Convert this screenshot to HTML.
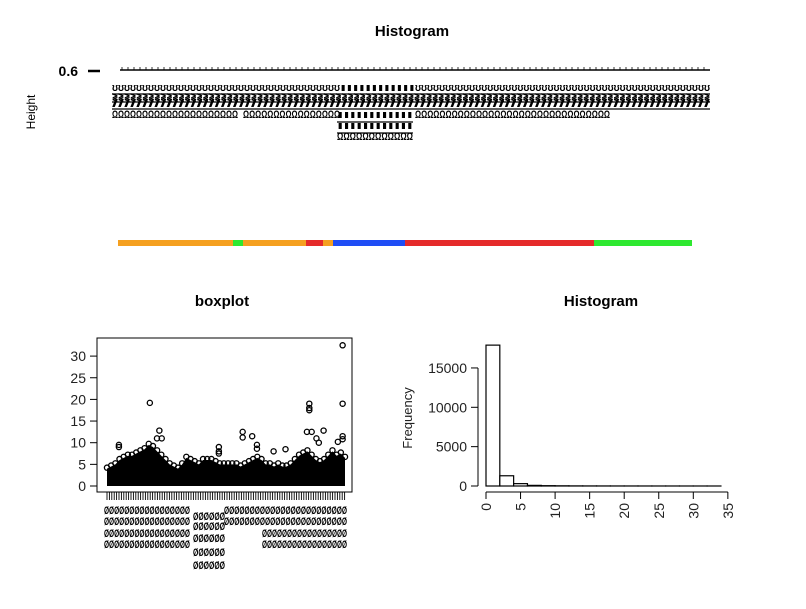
<!DOCTYPE html>
<html><head><meta charset="utf-8">
<style>
body{margin:0;background:#fff;}
svg text{font-family:"Liberation Sans",sans-serif;}
</style></head>
<body>
<svg id="c" width="806" height="604" viewBox="0 0 806 604" xmlns="http://www.w3.org/2000/svg">
<text x="412" y="36" font-size="15" font-weight="bold" text-anchor="middle">Histogram</text>
<text transform="translate(35,112) rotate(-90)" font-size="12" text-anchor="middle">Height</text>
<text x="78" y="76" font-size="14" font-weight="bold" text-anchor="end">0.6</text>
<line x1="88" y1="71" x2="100" y2="71" stroke="#000" stroke-width="2.5"/>
<g id="dendro"></g>
<g id="colorbar"></g>
<text x="222" y="306" font-size="15" font-weight="bold" text-anchor="middle">boxplot</text>
<g id="box"></g>
<text x="601" y="306" font-size="15" font-weight="bold" text-anchor="middle">Histogram</text>
<g id="hist"></g>
</svg>
<script>
// Histogram data
const histBreaks=[0,2,4,6,8,10,12,14,16,18,20,22,24,26,28,30,32,34];
const histCounts=[17900,1300,300,80,40,25,15,10,8,6,5,4,3,3,2,2,1];
const histYTicks=[0,5000,10000,15000];
const histXTicks=[0,5,10,15,20,25,30,35];
// Boxplot data: per-group upper whisker and outliers
const boxUpper=[4,4.5,5,6,6.5,7,7,7.5,8,8.5,9.5,9,8,7,6,5,4.5,4,5,6.5,6,5.5,5,6,6,6,5.5,5,5,5,5,5,4.5,5,5.5,6,6.5,6,5,5,4.5,5,4.5,4.5,5,6,7,7.5,8,7,6,5.5,6,7,8,7,7.5,6.5];
const boxOutliers=[[5,9.5],[5,9],[18,19.2],[22,12.8],[21,11],[23,11],[57,12.5],[57,11.2],[61,11.5],[63,9.5],[63,8.6],[47,9],[47,8],[47,7.5],[70,8],[75,8.5],[85,19],[85,18],[85,17.5],[84,12.5],[86,12.5],[88,11],[91,12.8],[89,10],[99,32.5],[99,19],[99,11.5],[99,10.8],[97,10.2]];
const dendroColors=[["#f5a020",118,233],["#2ee830",233,243],["#f5a020",243,306],["#e52a2a",306,323],["#f5a020",323,333],["#1f4df5",333,405],["#e52a2a",405,594],["#2ee830",594,692]];
const NS="http://www.w3.org/2000/svg";
function mk(p,t,a){const e=document.createElementNS(NS,t);for(const k in a)e.setAttribute(k,a[k]);p.appendChild(e);return e;}

// Color bar
const cb=document.getElementById('colorbar');
dendroColors.forEach(d=>{const r=mk(cb,'rect',{x:d[1],y:240,width:d[2]-d[1],height:6,fill:d[0]});

});

// Dendrogram (label clutter)
const dg=document.getElementById('dendro');
mk(dg,'line',{x1:120,y1:70,x2:710,y2:70,stroke:'#000','stroke-width':1.5});
for(let x=122;x<710;x+=6){mk(dg,'line',{x1:x,y1:67,x2:x,y2:70,stroke:'#000','stroke-width':0.8});}
const rows=[[112,340,91,'ʊ'],[340,415,91,'ı'],[415,710,91,'ʊ'],[112,710,101,'≷'],[112,710,107,'/'],[112,238,118,'Ω'],[243,340,118,'Ω'],[337,413,118,'ı'],[415,610,118,'Ω'],[337,413,129,'ı'],[337,413,140,'Ω']];
rows.forEach(r=>{const n=Math.floor((r[1]-r[0])/6);const t=mk(dg,'text',{x:r[0],y:r[2],'font-size':11,'font-weight':'bold',textLength:r[1]-r[0],lengthAdjust:'spacingAndGlyphs'});t.textContent=r[3].repeat(n);

});
[[112,710,94],[112,710,102],[112,710,109],[337,413,122],[337,413,133]].forEach(l=>mk(dg,'line',{x1:l[0],y1:l[2],x2:l[1],y2:l[2],stroke:'#000','stroke-width':1.2}));

// Boxplot
const bg=document.getElementById('box');
const by=v=>486-v*4.33;
const bx=i=>107+i*(238/(boxUpper.length-1));
mk(bg,'rect',{x:97,y:338,width:255,height:154,fill:'none',stroke:'#000','stroke-width':1});
mk(bg,'line',{x1:97,y1:by(0),x2:97,y2:by(30),stroke:'#000'});
[0,5,10,15,20,25,30].forEach(v=>{mk(bg,'line',{x1:90,y1:by(v),x2:97,y2:by(v),stroke:'#000'});
const t=mk(bg,'text',{x:86,y:by(v)+5,'font-size':14,'text-anchor':'end',fill:'#222'});t.textContent=v;

});
let pts='M107,'+by(0);
boxUpper.forEach((u,i)=>{pts+=' L'+bx(i)+','+by(u);});
pts+=' L345,'+by(0)+' Z';
const area=mk(bg,'path',{d:pts,fill:'#000'});


boxUpper.forEach((u,i)=>{mk(bg,'circle',{cx:bx(i),cy:by(u)-1,r:2.6,fill:'none',stroke:'#000','stroke-width':1.3});});
boxOutliers.forEach(o=>{const c=mk(bg,'circle',{cx:107+o[0]*2.38,cy:by(o[1]),r:2.6,fill:'none',stroke:'#000','stroke-width':1.3});

});
for(let x=107;x<=346;x+=2.4){mk(bg,'line',{x1:x,y1:492,x2:x,y2:500,stroke:'#000','stroke-width':0.9});}
[[104,190,514],[104,190,525],[104,190,537],[104,190,548],[193,225,520],[193,225,530],[193,225,542],[193,225,556],[193,225,569],[224,347,514],[224,347,525],[262,347,537],[262,347,548]].forEach(r=>{
const n=Math.floor((r[1]-r[0])/5);const t=mk(bg,'text',{x:r[0],y:r[2],'font-size':11,'font-weight':'bold',textLength:r[1]-r[0],lengthAdjust:'spacingAndGlyphs'});t.textContent='Ø'.repeat(n);

});

// Histogram
const hg=document.getElementById('hist');
const hx=v=>486+v*6.91;
const hy=v=>486-v*0.00787;
for(let i=0;i<histCounts.length;i++){
 const r=mk(hg,'rect',{x:hx(histBreaks[i]),y:hy(histCounts[i]),width:hx(histBreaks[i+1])-hx(histBreaks[i]),height:486-hy(histCounts[i]),fill:'#fff',stroke:'#000','stroke-width':1.2});
 
 
}
mk(hg,'line',{x1:478,y1:hy(0),x2:478,y2:hy(15000),stroke:'#000'});
histYTicks.forEach(v=>{mk(hg,'line',{x1:471,y1:hy(v),x2:478,y2:hy(v),stroke:'#000'});
const t=mk(hg,'text',{x:467,y:hy(v)+5,'font-size':14,'text-anchor':'end',fill:'#222'});t.textContent=v;

});
mk(hg,'line',{x1:hx(0),y1:492,x2:hx(35),y2:492,stroke:'#000'});
histXTicks.forEach(v=>{mk(hg,'line',{x1:hx(v),y1:492,x2:hx(v),y2:499,stroke:'#000'});
const t=mk(hg,'text',{transform:'translate('+(hx(v)+5)+',503) rotate(-90)','font-size':14,'text-anchor':'end',fill:'#222'});t.textContent=v;

});
const fl=mk(hg,'text',{transform:'translate(412,418) rotate(-90)','font-size':13,'text-anchor':'middle',fill:'#222'});fl.textContent='Frequency';


</script>
</body></html>
